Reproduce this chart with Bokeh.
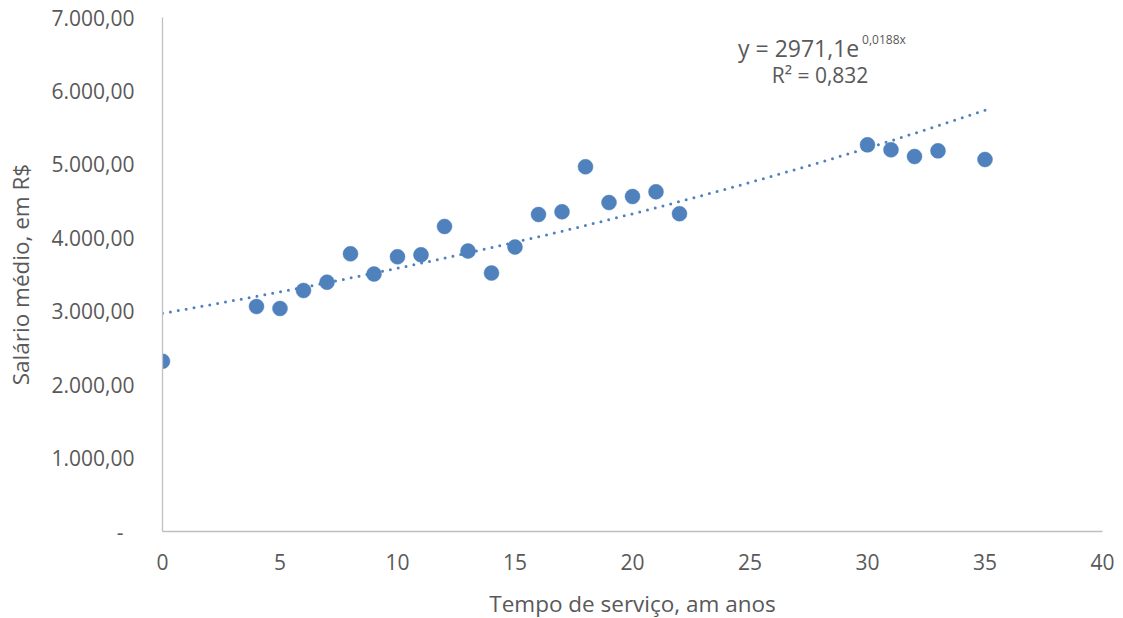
from bokeh.plotting import figure
from bokeh.models import Label, Range1d, FixedTicker
from bokeh.embed import file_html
from bokeh.resources import INLINE
import numpy as np

# Data
tempo = [0, 4, 5, 6, 7, 8, 9, 10, 11, 12, 13, 14, 15, 16, 17, 18, 19, 20, 21, 22, 30, 31, 32, 33, 35]
salario = [2318, 3064, 3037, 3282, 3395, 3782, 3506, 3741, 3768, 4154, 3820, 3520, 3874, 4317,
           4354, 4967, 4480, 4562, 4626, 4328, 5266, 5198, 5107, 5184, 5066]

# Exponential trendline parameters as printed on the chart
trend_a = 2971.1
trend_b = 0.0188
equation_main = "y = 2971,1e"
equation_exp = "0,0188x"
r2_text = "R² = 0,832"

x_ticks = [0, 5, 10, 15, 20, 25, 30, 35, 40]
y_ticks = [0, 1000, 2000, 3000, 4000, 5000, 6000, 7000]
y_tick_labels = ["-\u00a0\u00a0", "1.000,00", "2.000,00", "3.000,00", "4.000,00",
                 "5.000,00", "6.000,00", "7.000,00"]
x_title = "Tempo de serviço, am anos"
y_title = "Salário médio, em R$"

FONT = "Open Sans"
GREY_TEXT = "#595959"
AXIS_COLOR = "#BFBFBF"
BLUE = "#4F81BD"

p = figure(frame_width=940, frame_height=514, output_backend="svg", toolbar_location=None,
           x_range=Range1d(0, 40), y_range=Range1d(0, 7000),
           min_border_left=162, min_border_right=21, min_border_top=17, min_border_bottom=87)
p.outline_line_color = None
p.xgrid.visible = False
p.ygrid.visible = False
p.background_fill_color = "white"
p.border_fill_color = "white"

# trendline
tx = np.linspace(0, 35, 200)
ty = trend_a * np.exp(trend_b * tx)
p.line(tx, ty, line_color=BLUE, line_width=3, line_dash="0 8", line_cap="round")

p.scatter(tempo, salario, size=15, fill_color=BLUE, line_color=BLUE, line_width=0.5)

for ax in (p.xaxis[0], p.yaxis[0]):
    ax.axis_line_color = AXIS_COLOR
    ax.axis_line_width = 1.3
    ax.major_tick_line_color = None
    ax.minor_tick_line_color = None
    ax.major_tick_out = 0
    ax.major_tick_in = 0
    ax.minor_tick_out = 0
    ax.minor_tick_in = 0
    ax.major_label_text_font = FONT
    ax.major_label_text_color = GREY_TEXT
    ax.major_label_text_font_size = "21px"
    ax.axis_label_text_font = FONT
    ax.axis_label_text_color = GREY_TEXT
    ax.axis_label_text_font_style = "normal"
    ax.axis_label_text_font_size = "22.5px"

p.xaxis.ticker = FixedTicker(ticks=x_ticks)
p.yaxis.ticker = FixedTicker(ticks=y_ticks)
p.yaxis.major_label_overrides = {t: l for t, l in zip(y_ticks, y_tick_labels)}
p.xaxis.axis_label = x_title
p.yaxis.axis_label = y_title
p.xaxis.major_label_standoff = 22
p.xaxis.axis_label_standoff = 15
p.yaxis.major_label_standoff = 28
p.yaxis.axis_label_standoff = 13

p.add_layout(Label(x=24.49, y=6590, text=equation_main, text_font=FONT, text_font_size="23px",
                   text_color=GREY_TEXT, text_baseline="alphabetic", text_align="left"))
p.add_layout(Label(x=29.77, y=6697, text=equation_exp, text_font=FONT, text_font_size="12px",
                   text_color=GREY_TEXT, text_baseline="alphabetic", text_align="left"))
p.add_layout(Label(x=27.98, y=6220, text=r2_text, text_font=FONT, text_font_size="21px",
                   text_color=GREY_TEXT, text_baseline="alphabetic", text_align="center"))

open("out.html", "w").write(file_html(p, INLINE))
